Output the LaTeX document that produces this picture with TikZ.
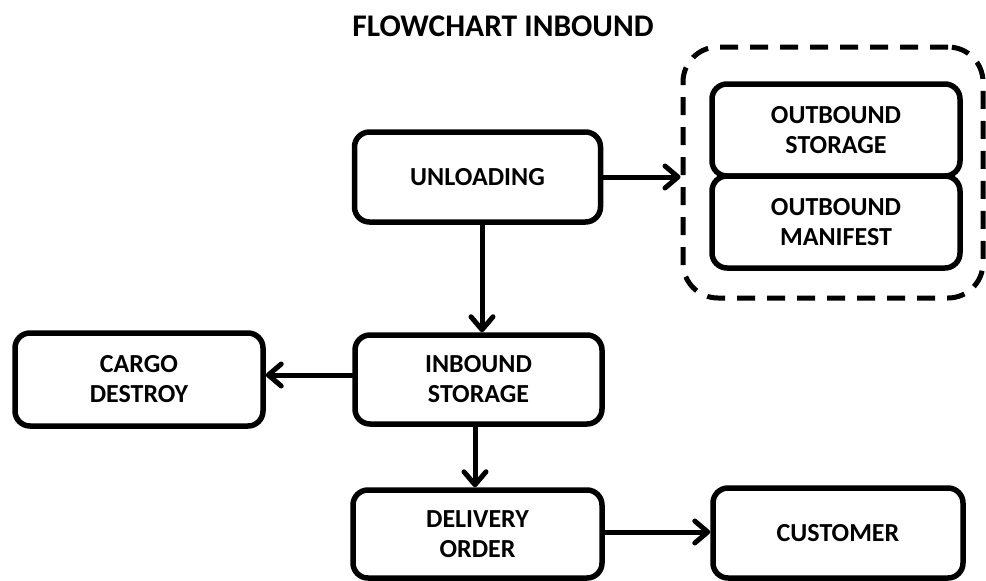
\documentclass[tikz,border=0pt]{standalone}
\usepackage{fontspec}
\setmainfont{Carlito}
\usetikzlibrary{arrows.meta}

\tikzset{
  stage/.style={draw, line width=5.5pt, rounded corners=15pt, align=center,
    font=\bfseries\fontsize{26}{30}\selectfont, inner sep=0pt},
  grouped/.style={draw, line width=5pt, dash pattern=on 18pt off 12pt,
    rounded corners=35pt, inner sep=0pt},
  flow/.style={line width=5pt, line cap=round,
    -{Straight Barb[length=13pt,width=22pt,line cap=round,line join=round]}},
}

\begin{document}
\begin{tikzpicture}[x=1pt,y=-1pt]
  \useasboundingbox (0,0) rectangle (986,581);

  \node (title) at (503,26) {\bfseries\fontsize{31.5}{36}\selectfont FLOWCHART INBOUND};

  % process stages
  \node[stage, minimum width=246pt, minimum height=90pt] (unl) at (477.5,177) {UNLOADING};
  \node[stage, minimum width=247pt, minimum height=89pt] (inb) at (478.5,379.5) {INBOUND\\STORAGE};
  \node[stage, minimum width=248pt, minimum height=93pt] (cargo) at (139,379.5) {CARGO\\DESTROY};
  \node[stage, minimum width=249pt, minimum height=88pt] (deliv) at (477.5,534) {DELIVERY\\ORDER};
  \node[stage, minimum width=250pt, minimum height=90pt] (cust) at (838,533) {CUSTOMER};

  % outbound group
  \node[grouped, minimum width=300pt, minimum height=251pt] (grp) at (833,172.5) {};
  \node[stage, minimum width=248pt, minimum height=92pt] (ost) at (836,130) {OUTBOUND\\STORAGE};
  \node[stage, minimum width=248pt, minimum height=92pt] (oman) at (836,222) {OUTBOUND\\MANIFEST};

  % connectors
  \draw[flow] (unl.east) -- (unl.east -| grp.west);
  \draw[flow] ([xshift=4.5pt]unl.south) -- ([xshift=4.5pt]unl.south |- inb.north);
  \draw[flow] ([yshift=4.5pt]inb.west) -- ([yshift=4.5pt]inb.west -| cargo.east);
  \draw[flow] ([xshift=-3.5pt]inb.south) -- ([xshift=-3.5pt]inb.south |- deliv.north);
  \draw[flow] ([yshift=2pt]deliv.east) -- ([yshift=2pt]deliv.east -| cust.west);
\end{tikzpicture}
\end{document}
